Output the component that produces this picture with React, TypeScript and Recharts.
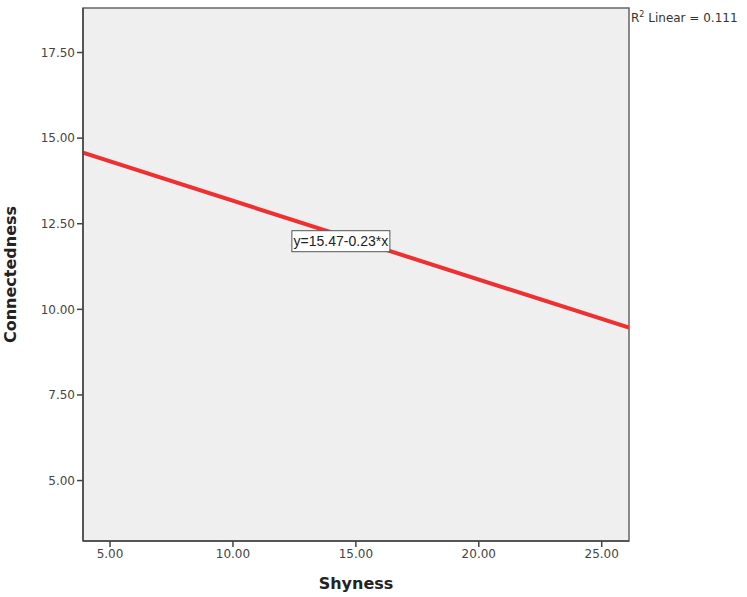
import { ComposedChart, Line, XAxis, YAxis, ReferenceArea, ReferenceDot, Label } from 'recharts';

// fitted line drawn across the visible x range
const fitX = [3.9, 26.11];
const fitY = [14.573, 9.465];
const xTicks = [5, 10, 15, 20, 25];
const yTicks = [5, 7.5, 10, 12.5, 15, 17.5];
const equationText = 'y=15.47-0.23*x';
const equationPos = [14.39, 11.99];

const X_DOMAIN: [number, number] = [3.9, 26.11];
const Y_DOMAIN: [number, number] = [3.235, 18.8];

const data = fitX.map((x, i) => ({ x, y: fitY[i] }));

const FONT = '"DejaVu Sans", sans-serif';
const tickStyle = { fontSize: 12, fill: '#444', fontFamily: FONT };

function EquationBox(props: any) {
  const { cx, cy } = props;
  const w = 98;
  const h = 21;
  return (
    <g>
      <rect x={cx - w / 2} y={cy - h / 2} width={w} height={h} fill="#fff" stroke="#555" strokeWidth={1} />
      <text x={cx} y={cy + 5} textAnchor="middle" fontSize={14} fontFamily='"Liberation Sans", Arial, sans-serif' fill="#222">
        {equationText}
      </text>
    </g>
  );
}

export default function App() {
  return (
    <div style={{ position: 'absolute', left: 0, top: 0, width: 747, height: 597, background: '#fff' }}>
      <ComposedChart width={747} height={597} data={data} margin={{ top: 8, right: 118, left: 0, bottom: 0 }}>
        <ReferenceArea
          x1={X_DOMAIN[0]}
          x2={X_DOMAIN[1]}
          y1={Y_DOMAIN[0]}
          y2={Y_DOMAIN[1]}
          fill="#efefef"
          fillOpacity={1}
          stroke="#666"
          strokeWidth={1.5}
        />
        <XAxis
          dataKey="x"
          type="number"
          domain={X_DOMAIN}
          allowDataOverflow
          ticks={xTicks}
          tickFormatter={(v: number) => v.toFixed(2)}
          height={56}
          tick={tickStyle}
          tickSize={6}
          stroke="#444"
          axisLine={{ stroke: '#444', strokeWidth: 1.5 }}
          tickLine={{ stroke: '#444', strokeWidth: 1.5 }}
        >
          <Label value="Shyness" position="insideBottom" offset={8} style={{ fontSize: 16, fontWeight: 'bold', fill: '#222', fontFamily: FONT }} />
        </XAxis>
        <YAxis
          type="number"
          domain={Y_DOMAIN}
          allowDataOverflow
          ticks={yTicks}
          tickFormatter={(v: number) => v.toFixed(2)}
          width={83}
          tick={tickStyle}
          tickSize={6}
          stroke="#444"
          axisLine={{ stroke: '#444', strokeWidth: 1.5 }}
          tickLine={{ stroke: '#444', strokeWidth: 1.5 }}
        >
          <Label value="Connectedness" angle={-90} position="insideLeft" offset={10} style={{ fontSize: 16, fontWeight: 'bold', fill: '#222', fontFamily: FONT, textAnchor: 'middle' }} />
        </YAxis>
        <Line type="linear" dataKey="y" stroke="#ef3030" strokeWidth={4} dot={false} isAnimationActive={false} />
        <ReferenceDot x={equationPos[0]} y={equationPos[1]} r={0} shape={EquationBox} />
      </ComposedChart>
      <div style={{ position: 'absolute', left: 631, top: 10, fontSize: 12, fontFamily: FONT, color: '#333', whiteSpace: 'nowrap' }}>
        R<sup style={{ fontSize: 8 }}>2</sup> Linear = 0.111
      </div>
    </div>
  );
}
